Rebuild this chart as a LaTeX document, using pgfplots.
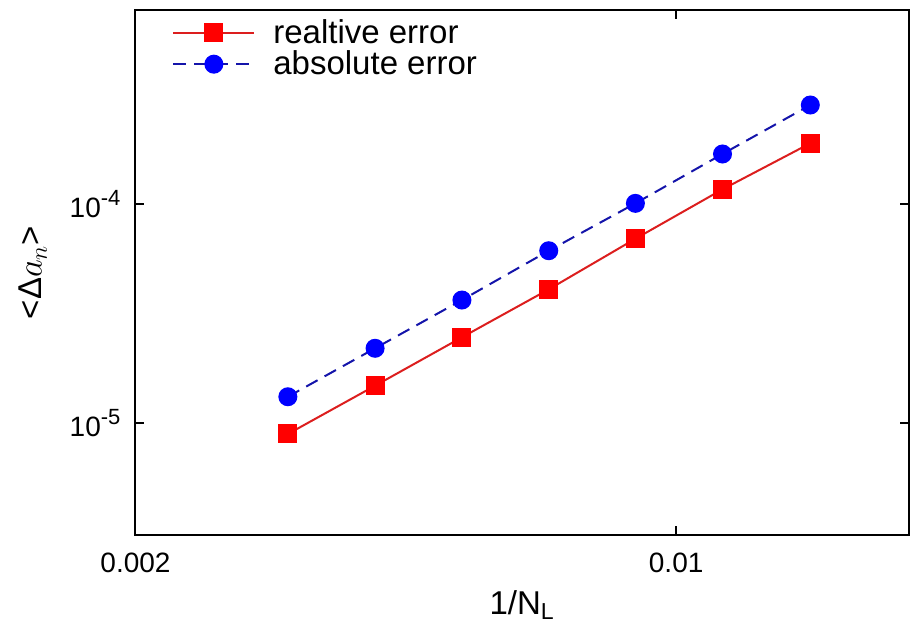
\documentclass[border=0pt]{standalone}
\usepackage{fontspec}
\setmainfont{Liberation Sans}
\usepackage{pgfplots}
\pgfplotsset{compat=1.18}

\definecolor{redline}{RGB}{220,30,30}
\definecolor{redmark}{RGB}{255,0,0}
\definecolor{blueline}{RGB}{20,20,170}
\definecolor{bluemark}{RGB}{0,0,255}

\newcommand{\expo}[1]{\raisebox{0.42em}{\fontsize{11}{12}\selectfont #1}}

\begin{document}
\begin{tikzpicture}
\begin{axis}[
    scale only axis,
    width=386.75pt, height=262.5pt,
    xmode=log, ymode=log,
    xmin=0.002, xmax=0.02,
    ymin=3.08e-6, ymax=7.69e-4,
    xtick={0.002,0.01}, xticklabels={0.002,0.01},
    ytick={1e-5,1e-4}, yticklabels={10\expo{-5},10\expo{-4}},
    minor tick length=0pt,
    tick align=inside,
    major tick length=4.5pt,
    axis line style={line width=1pt},
    every tick/.style={black, line width=0.8pt},
    tick label style={font=\fontsize{14}{16}\selectfont},
    label style={font=\fontsize{16.5}{19}\selectfont},
    xticklabel style={yshift=-5.5pt},
    yticklabel style={xshift=-4pt},
    xlabel={1/N\textsubscript{L}},
    ylabel={<Δ$a_n$>},
    xlabel style={at={(axis description cs:0.5,-0.1333)}, anchor=center},
    ylabel style={at={(axis description cs:-0.1325,0.5)}, anchor=center},
    legend cell align=left,
    legend style={draw=none, fill=none, at={(0,1)}, anchor=north west,
        xshift=18.25pt, yshift=-4.5pt, inner sep=0pt, row sep=2.2pt,
        nodes={inner sep=0pt},
        /tikz/every odd column/.append style={column sep=9pt},
        font=\fontsize{16.5}{19}\selectfont},
    legend image code/.code={
        \draw[mark repeat=2, mark phase=2, #1]
            plot coordinates {(0pt,0pt) (20.25pt,0pt) (40.5pt,0pt)};
    },
]
\addplot[color=redline, line width=1pt, mark=square*, mark size=4.25pt,
    mark options={solid, fill=redmark, draw=redmark}]
    coordinates {
    (0.003148, 8.91e-6) (0.004081, 1.480e-5) (0.005285, 2.462e-5)
    (0.006844, 4.077e-5) (0.008858, 6.94e-5) (0.01148, 1.167e-4)
    (0.01491, 1.894e-4)
    };
\addlegendentry{realtive error}
\addplot[color=blueline, line width=1pt, dash pattern=on 6.5pt off 4pt,
    mark=*, mark size=4.25pt,
    mark options={solid, fill=bluemark, draw=bluemark}]
    coordinates {
    (0.003148, 1.318e-5) (0.004081, 2.194e-5) (0.005285, 3.644e-5)
    (0.006844, 6.12e-5) (0.008858, 1.007e-4) (0.01148, 1.692e-4)
    (0.01491, 2.832e-4)
    };
\addlegendentry{absolute error}
\end{axis}
\path (current axis.south west) ++(-67.75pt,-46.5pt)
    rectangle ([shift={(1.5pt,5pt)}]current axis.north east);
\end{tikzpicture}
\end{document}
